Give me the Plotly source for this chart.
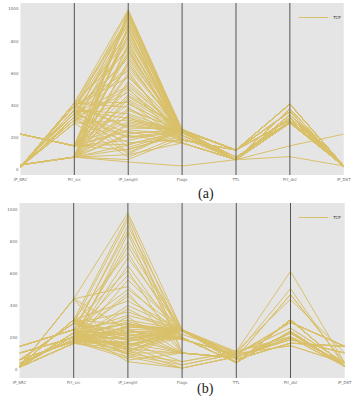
import plotly.graph_objects as go

# ---------------- data ----------------
columns = ["IP_SRC", "Prt_src", "IP_Lenght", "Flags", "TTL", "Prt_dst", "IP_DST"]
series_name = "TCP"
y_ticks = [0, 200, 400, 600, 800, 1000]

# panel (a)
ip_src_a  = [18, 20, 32, 223, 22, 15, 32, 28, 223, 25, 32, 18, 223, 20, 32, 20, 223, 22, 32, 28,
             223, 15, 32, 25, 223, 18, 32, 20, 223, 20, 32, 22, 223, 28, 32, 15, 223, 25, 32, 18,
             223, 20, 32, 20, 32, 32, 22, 15, 25, 20,
             32, 223, 18, 20, 32, 223, 22, 32, 28, 223, 32, 15, 223, 32, 25, 223, 32, 18, 223, 32,
             20, 223, 32, 22, 223, 32, 28, 223, 32, 15]
prt_src_a = [415, 372, 80, 150, 398, 330, 80, 350, 150, 310, 80, 415, 150, 372, 80, 290, 150, 398, 80, 350,
             150, 330, 80, 310, 150, 415, 80, 372, 150, 290, 80, 398, 150, 350, 80, 330, 150, 310, 80, 415,
             150, 372, 80, 290, 80, 80, 398, 330, 310, 290,
             80, 150, 415, 372, 80, 150, 398, 80, 350, 150, 80, 330, 150, 80, 310, 150, 80, 415, 150, 80,
             372, 150, 80, 398, 150, 80, 350, 150, 80, 330]
ip_len_a  = [995, 985, 970, 950, 930, 905, 880, 860, 830, 800, 770, 745, 720, 690, 660, 630, 600, 575, 550, 520,
             500, 480, 455, 430, 410, 390, 370, 350, 330, 310, 290, 270, 250, 230, 215, 200, 185, 170, 155, 140,
             125, 110, 95, 80, 65, 50, 615, 705, 960, 875,
             990, 975, 940, 915, 895, 845, 815, 785, 760, 735, 675, 645, 585, 535, 510, 465, 440, 420, 380, 340,
             320, 300, 280, 260, 240, 225, 205, 160, 130, 100]
flags_a   = [250, 245, 232, 250, 215, 245, 186, 250, 232, 168, 245, 215, 255, 250, 232, 245, 186, 250, 240, 245,
             232, 250, 255, 215, 245, 168, 250, 232, 186, 245, 240, 250, 215, 245, 168, 232, 250, 186, 245, 240,
             232, 250, 168, 215, 200, 25, 168, 240, 255, 186,
             245, 215, 232, 168, 250, 240, 245, 250, 186, 232, 215, 250, 245, 232, 168, 250, 245, 186, 240, 215,
             250, 245, 232, 255, 168, 250, 245, 240, 215, 250]
ttl_a     = [124, 124, 64, 124, 64, 124, 124, 124, 64, 64, 124, 64, 64, 124, 64, 124, 124, 124, 80, 124,
             64, 124, 64, 64, 124, 64, 124, 64, 124, 124, 80, 124, 64, 124, 64, 64, 124, 124, 124, 80,
             64, 124, 64, 64, 64, 64, 64, 80, 64, 124,
             124, 64, 64, 64, 124, 80, 124, 124, 124, 64, 64, 124, 124, 64, 64, 124, 124, 124, 80, 64,
             124, 124, 64, 64, 64, 124, 124, 80, 64, 124]
prt_dst_a = [410, 362, 342, 410, 325, 362, 310, 410, 342, 292, 362, 325, 380, 410, 342, 362, 310, 410, 300, 362,
             342, 410, 380, 325, 362, 292, 410, 342, 310, 362, 300, 410, 325, 362, 292, 342, 410, 310, 362, 300,
             342, 410, 292, 325, 150, 83, 292, 300, 380, 310,
             362, 325, 342, 292, 410, 300, 362, 410, 310, 342, 325, 410, 362, 342, 292, 410, 362, 310, 300, 325,
             410, 362, 342, 380, 292, 410, 362, 300, 325, 410]
ip_dst_a  = [25, 20, 22, 25, 25, 20, 20, 25, 22, 25, 20, 25, 20, 25, 22, 20, 20, 25, 22, 20,
             22, 25, 20, 25, 20, 25, 25, 22, 20, 20, 22, 25, 25, 20, 25, 22, 25, 20, 20, 22,
             22, 25, 25, 25, 223, 25, 25, 22, 20, 20,
             20, 25, 22, 25, 25, 22, 20, 25, 20, 22, 25, 25, 20, 22, 25, 25, 20, 20, 22, 25,
             25, 20, 22, 20, 25, 25, 20, 22, 25, 25]

# panel (b)
ip_src_b  = [20, 25, 60, 20, 145, 15, 104, 20, 25, 40, 62, 60, 20, 15, 20, 145, 104, 20, 25, 40,
             62, 60, 20, 15, 145, 104, 20, 25, 40, 62, 20, 60, 20, 15, 145, 104, 20, 25, 40, 62,
             60, 20, 15, 145, 104, 20, 25, 40, 62, 20,
             20, 15, 104, 40, 62, 20, 25, 60, 145, 20, 15, 104, 40, 62, 20, 25, 60, 15, 20, 145]
prt_src_b = [442, 312, 290, 230, 250, 165, 200, 210, 312, 188, 175, 290, 230, 165, 442, 250, 200, 210, 312, 188,
             175, 290, 230, 165, 250, 200, 210, 312, 188, 175, 442, 290, 230, 165, 250, 200, 210, 312, 188, 175,
             290, 230, 165, 250, 200, 210, 312, 188, 175, 442,
             230, 165, 200, 188, 175, 210, 312, 290, 250, 230, 165, 200, 188, 175, 210, 312, 290, 165, 230, 250]
ip_len_b  = [980, 960, 935, 900, 870, 850, 800, 770, 730, 700, 650, 620, 590, 560, 520, 500, 480, 460, 430, 400,
             380, 360, 340, 330, 310, 300, 290, 280, 270, 260, 250, 240, 230, 220, 210, 200, 190, 180, 170, 160,
             150, 140, 130, 120, 110, 100, 90, 80, 70, 60,
             285, 275, 265, 245, 235, 225, 215, 205, 195, 185, 175, 165, 155, 145, 135, 125, 115, 105, 95, 50]
flags_b   = [250, 190, 104, 250, 200, 104, 250, 240, 200, 250, 190, 104, 250, 250, 200, 250, 104, 190, 250, 250,
             200, 250, 250, 104, 250, 220, 200, 250, 240, 104, 250, 190, 250, 200, 250, 104, 250, 250, 50, 200,
             250, 30, 104, 10, 250, 50, 30, 10, 250, 104,
             250, 250, 250, 200, 250, 104, 250, 190, 250, 200, 250, 104, 250, 250, 250, 200, 250, 104, 250, 10]
ttl_b     = [45, 95, 75, 45, 45, 75, 45, 75, 45, 45, 95, 75, 45, 64, 45, 45, 75, 95, 45, 113,
             45, 45, 95, 75, 45, 113, 45, 45, 75, 75, 45, 95, 45, 45, 45, 75, 64, 45, 113, 45,
             45, 100, 75, 81, 45, 113, 100, 81, 45, 75,
             45, 64, 81, 45, 45, 75, 100, 95, 45, 45, 81, 75, 45, 64, 100, 45, 45, 75, 81, 81]
prt_dst_b = [312, 296, 229, 312, 240, 229, 312, 470, 240, 312, 296, 229, 312, 166, 240, 312, 229, 296, 312, 615,
             240, 312, 506, 229, 312, 440, 240, 312, 470, 229, 312, 296, 312, 240, 312, 229, 166, 312, 206, 240,
             312, 150, 229, 188, 312, 206, 150, 188, 312, 229,
             312, 166, 200, 240, 312, 229, 260, 296, 312, 240, 200, 229, 312, 166, 260, 240, 312, 229, 200, 188]
ip_dst_b  = [21, 146, 21, 21, 21, 21, 21, 42, 21, 21, 146, 21, 21, 146, 21, 21, 21, 146, 21, 42,
             21, 21, 21, 21, 21, 104, 21, 21, 42, 21, 21, 146, 21, 21, 21, 21, 146, 21, 42, 21,
             21, 42, 21, 104, 21, 42, 42, 104, 21, 21,
             21, 146, 21, 21, 21, 21, 42, 146, 21, 21, 21, 21, 21, 146, 42, 21, 21, 21, 21, 104]

# ---------------- styling ----------------
LINE_COLOR = "#D9C06A"
BG = "#E5E5E5"
AXIS_LINE = "#555555"
W, H = 357, 400


def build_xy(cols):
    xs, ys = [], []
    n = len(cols[0])
    for r in range(n):
        for ci, col in enumerate(cols):
            xs.append(ci)
            ys.append(col[r])
        xs.append(None)
        ys.append(None)
    return xs, ys


fig = go.Figure()

panels = [
    dict(cols=[ip_src_a, prt_src_a, ip_len_a, flags_a, ttl_a, prt_dst_a, ip_dst_a],
         xa="x", ya="y", legend="legend", ydom=[1 - 175 / H, 1 - 3 / H], yrange=[-31, 1037],
         xdom=[14 / W, 350.5 / W]),
    dict(cols=[ip_src_b, prt_src_b, ip_len_b, flags_b, ttl_b, prt_dst_b, ip_dst_b],
         xa="x2", ya="y2", legend="legend2", ydom=[1 - 378 / H, 1 - 203 / H], yrange=[-52, 1042],
         xdom=[13 / W, 351.5 / W]),
]

tick_font = dict(family="DejaVu Sans", size=4, color="#6a6a6a")

for i, p in enumerate(panels):
    xs, ys = build_xy(p["cols"])
    fig.add_trace(go.Scatter(
        x=xs, y=ys, mode="lines", name=series_name,
        line=dict(color=LINE_COLOR, width=1),
        xaxis=p["xa"], yaxis=p["ya"], legend=p["legend"],
        connectgaps=False, hoverinfo="skip",
    ))
    xkey = "xaxis" if i == 0 else "xaxis2"
    ykey = "yaxis" if i == 0 else "yaxis2"
    fig.update_layout(**{
        xkey: dict(domain=p["xdom"], anchor=p["ya"], range=[0, len(columns) - 1],
                   tickvals=list(range(len(columns))), ticktext=columns,
                   showgrid=False, zeroline=False, showline=False, ticks="",
                   tickfont=tick_font, ticklabelstandoff=1, ticklabeloverflow="allow"),
        ykey: dict(domain=p["ydom"], anchor=p["xa"], range=p["yrange"],
                   tickvals=y_ticks, showgrid=False, zeroline=False, showline=False,
                   ticks="", tickfont=tick_font, ticklabelstandoff=1, ticklabeloverflow="allow"),
    })
    # vertical axis lines at interior column positions (drawn on top, like pandas axvline)
    for ci in range(1, len(columns) - 1):
        fig.add_shape(type="line", xref=p["xa"], yref=f"{p['ya']} domain",
                      x0=ci, x1=ci, y0=0, y1=1, layer="above",
                      line=dict(color=AXIS_LINE, width=1))

fig.update_layout(
    width=W, height=H,
    margin=dict(l=0, r=0, t=0, b=0),
    paper_bgcolor="white",
    plot_bgcolor=BG,
    showlegend=True,
    legend=dict(x=0.995, xanchor="right", y=1 - 3 / H, yanchor="top",
                bgcolor="rgba(0,0,0,0)", font=dict(family="DejaVu Sans", size=4, color="#333"),
                itemwidth=30, tracegroupgap=0),
    legend2=dict(x=0.995, xanchor="right", y=1 - 203 / H, yanchor="top",
                 bgcolor="rgba(0,0,0,0)", font=dict(family="DejaVu Sans", size=4, color="#333"),
                 itemwidth=30, tracegroupgap=0),
    annotations=[
        dict(text="(a)", x=207 / W, y=1 - 194 / H, xref="paper", yref="paper",
             showarrow=False, font=dict(family="Liberation Serif", size=14, color="#222")),
        dict(text="(b)", x=207 / W, y=1 - 399 / H, xref="paper", yref="paper",
             showarrow=False, font=dict(family="Liberation Serif", size=14, color="#222")),
    ],
)

fig.write_html("out.html")
